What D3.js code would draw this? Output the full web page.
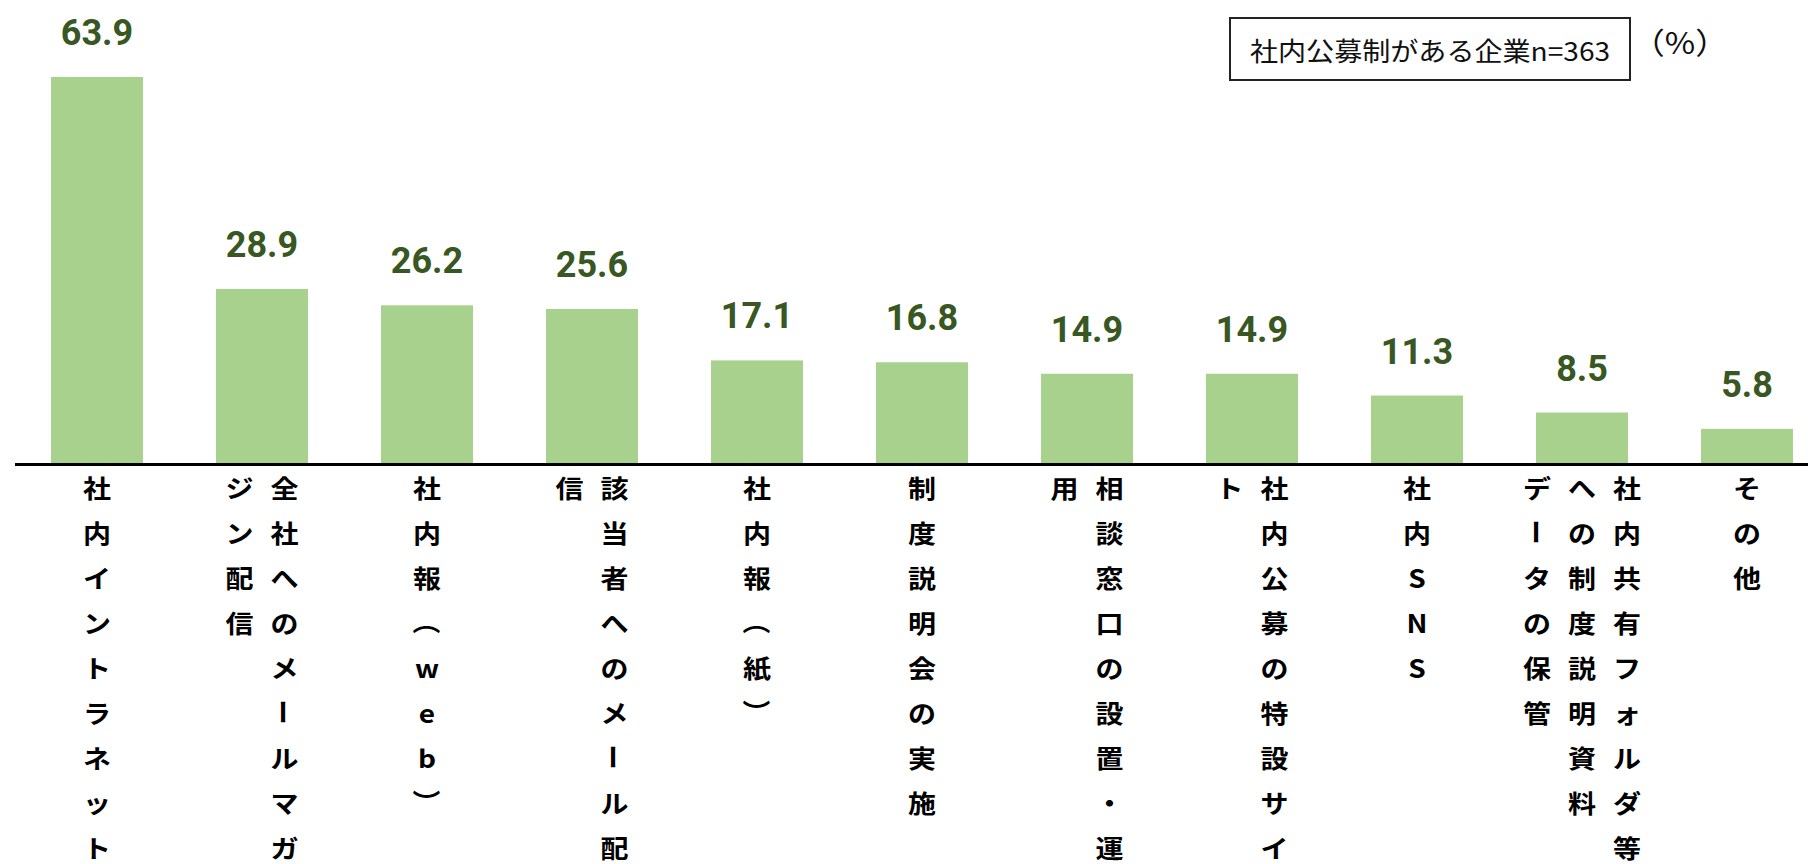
<!DOCTYPE html>
<html lang="ja">
<head>
<meta charset="utf-8">
<title>社内公募制の周知方法</title>
<script src="https://cdn.jsdelivr.net/npm/d3@7/dist/d3.min.js"></script>
<style>
  html, body { margin: 0; padding: 0; background: #ffffff; }
  svg { display: block; }
</style>
</head>
<body>
<svg id="chart" width="1808" height="864"></svg>
<script>
// Survey results: share of companies (with an internal job-posting system) using each channel
const categories = [
  "社内イントラネット",
  "全社へのメールマガジン配信",
  "社内報（web）",
  "該当者へのメール配信",
  "社内報（紙）",
  "制度説明会の実施",
  "相談窓口の設置・運用",
  "社内公募の特設サイト",
  "社内SNS",
  "社内共有フォルダ等への制度説明資料データの保管",
  "その他"
];
const values = [63.9, 28.9, 26.2, 25.6, 17.1, 16.8, 14.9, 14.9, 11.3, 8.5, 5.8];
const legendText = "社内公募制がある企業n=363";
const unitText = "（%）";

const W = 1808, H = 864;
const barColor = "#a9d18e";
const valueColor = "#385723";

const svg = d3.select("#chart");

const x = d3.scaleBand()
  .domain(categories)
  .range([14.5, 1829.5])
  .paddingInner(0.4424)
  .paddingOuter(0.2212);

const y = d3.scaleLinear()
  .domain([0, 70])
  .range([464, 464 - 70 * 6.057]);

// Bars
svg.append("g")
  .selectAll("rect")
  .data(values)
  .join("rect")
  .attr("x", (d, i) => x(categories[i]))
  .attr("y", d => y(d))
  .attr("width", x.bandwidth())
  .attr("height", d => y(0) - y(d))
  .attr("fill", barColor);

// Value labels above bars
svg.append("g")
  .selectAll("text")
  .data(values)
  .join("text")
  .attr("x", (d, i) => x(categories[i]) + x.bandwidth() / 2)
  .attr("y", d => y(d) - 32)
  .attr("text-anchor", "middle")
  .attr("font-family", "Roboto, 'Liberation Sans', Arial, sans-serif")
  .attr("font-weight", 700)
  .attr("font-size", 36)
  .attr("fill", valueColor)
  .text(d => d.toFixed(1));

// Baseline axis
const axis = svg.append("g")
  .attr("transform", `translate(0,${y(0)})`)
  .call(d3.axisBottom(x).tickSize(0).tickSizeOuter(0).tickFormat(""));
axis.select(".domain").attr("stroke", "#000").attr("stroke-width", 3);

// Vertical category labels: columns of 9 characters, read right to left
const perColumn = 9;
const noLineStart = new Set(["ー", "）", "、", "。", "ッ", "ャ", "ュ", "ョ"]);
function toColumns(label) {
  const chars = Array.from(label);
  const cols = [];
  let i = 0;
  while (i < chars.length) {
    let cut = Math.min(perColumn, chars.length - i);
    while (cut > 1 && i + cut < chars.length && noLineStart.has(chars[i + cut])) cut--;
    cols.push(chars.slice(i, i + cut));
    i += cut;
  }
  return cols;
}
const rotated = new Set(["ー", "（", "）"]);
const colGap = 45, rowGap = 45, firstRow = 487;

const labelLayer = svg.append("g")
  .attr("font-family", "'Noto Sans CJK JP', 'Noto Sans', sans-serif")
  .attr("font-weight", 700)
  .attr("font-size", 25)
  .attr("fill", "#000");

categories.forEach(cat => {
  const cx = x(cat) + x.bandwidth() / 2;
  const cols = toColumns(cat);
  const k = cols.length;
  cols.forEach((col, j) => {
    const colX = cx + ((k - 1) / 2 - j) * colGap;
    col.forEach((ch, r) => {
      const g = labelLayer.append("g")
        .attr("transform", `translate(${colX},${firstRow + r * rowGap}) scale(1.12,1)` + (rotated.has(ch) ? " rotate(90)" : ""));
      g.append("text")
        .attr("text-anchor", "middle")
        .attr("dominant-baseline", "central")
        .text(ch);
    });
  });
});

// Sample-size box
const legend = svg.append("g");
legend.append("rect")
  .attr("x", 1230).attr("y", 18)
  .attr("width", 400).attr("height", 62)
  .attr("fill", "#fff")
  .attr("stroke", "#222")
  .attr("stroke-width", 2);
legend.append("g")
  .attr("transform", "translate(1430,50) scale(1.08,1)")
  .append("text")
  .attr("text-anchor", "middle")
  .attr("dominant-baseline", "central")
  .attr("font-family", "'Noto Sans CJK JP', 'Noto Sans', sans-serif")
  .attr("font-size", 26)
  .attr("fill", "#111")
  .text(legendText);

svg.append("g")
  .attr("transform", "translate(1680,41) scale(1.1,1)")
  .append("text")
  .attr("text-anchor", "middle")
  .attr("dominant-baseline", "central")
  .attr("font-family", "'Noto Sans CJK JP', 'Noto Sans', sans-serif")
  .attr("font-size", 30)
  .attr("fill", "#111")
  .text(unitText);
</script>
</body>
</html>
